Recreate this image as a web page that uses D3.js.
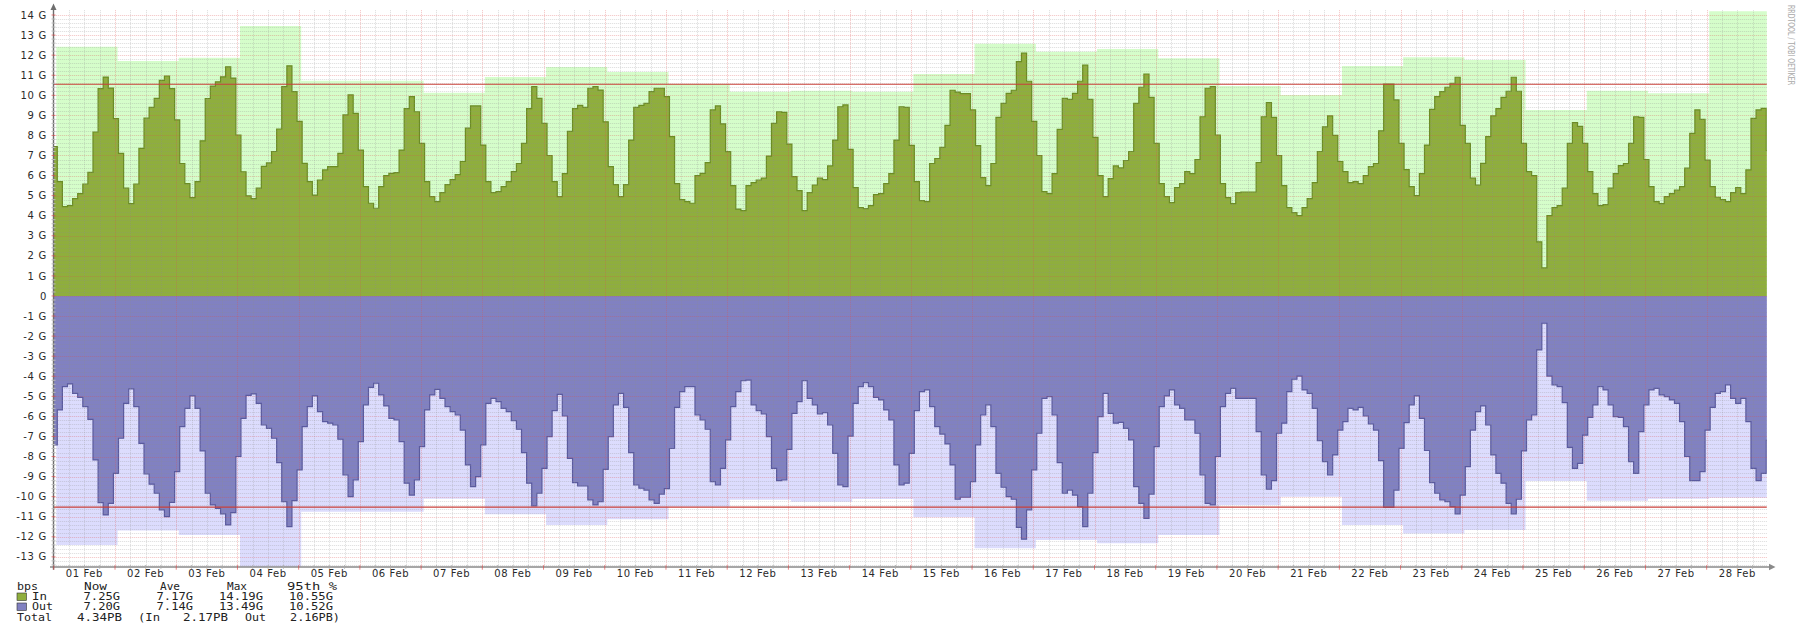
<!DOCTYPE html>
<html><head><meta charset="utf-8">
<script src="https://cdn.jsdelivr.net/npm/d3@7"></script>
<style>html,body{margin:0;padding:0;background:#fff;overflow:hidden}svg{display:block}</style>
</head><body>
<svg id="chart" width="1800" height="628"></svg>
<script>
// ---------------- data (Gbps) ----------------
const dayLabels = ["01 Feb","02 Feb","03 Feb","04 Feb","05 Feb","06 Feb","07 Feb","08 Feb","09 Feb","10 Feb",
  "11 Feb","12 Feb","13 Feb","14 Feb","15 Feb","16 Feb","17 Feb","18 Feb","19 Feb","20 Feb",
  "21 Feb","22 Feb","23 Feb","24 Feb","25 Feb","26 Feb","27 Feb","28 Feb"];
const yTickValues = [-13,-12,-11,-10,-9,-8,-7,-6,-5,-4,-3,-2,-1,0,1,2,3,4,5,6,7,8,9,10,11,12,13,14];

// daily maximum (consolidated) series
const inMax  = [12.42,11.71,11.87,13.45,10.73,10.73,10.13,10.91,11.41,11.16,10.56,10.18,10.23,10.18,
                11.06,12.57,12.17,12.31,11.84,10.46,10.01,11.46,11.89,11.76,9.27,10.23,10.10,14.19];
const outMax = [12.41,11.69,11.91,13.49,10.75,10.75,10.11,10.88,11.41,11.13,10.50,10.16,10.25,10.12,
                11.03,12.57,12.16,12.32,11.91,10.41,10.00,11.41,11.83,11.66,9.22,10.20,10.11,10.05];

// 2-hour averages, inbound
const inTraffic = [
 7.44,5.70,4.45,4.50,4.85,5.10,5.58,6.16,8.17,10.33,10.91,10.36,
 8.84,7.11,5.37,4.60,5.58,7.35,8.86,9.40,9.85,10.74,10.96,10.33,
 8.77,6.60,5.60,4.90,5.70,7.73,9.84,10.46,10.67,10.92,11.42,10.86,
 8.02,6.19,4.99,4.85,5.37,6.46,6.63,7.20,8.32,10.43,11.47,10.18,
 8.70,6.61,5.70,5.03,5.78,6.28,6.45,6.45,7.11,9.02,10.02,9.10,
 7.27,5.45,4.62,4.37,5.45,6.00,6.11,6.15,7.27,9.34,9.93,9.18,
 7.60,5.70,4.95,4.70,5.15,5.55,5.80,6.05,6.70,8.36,9.47,9.47,
 7.52,5.70,5.15,5.20,5.45,5.70,6.20,6.60,7.60,9.34,10.43,9.85,
 8.60,7.00,5.70,4.95,6.10,8.20,9.34,9.50,9.40,10.35,10.43,10.26,
 8.68,6.45,5.55,4.95,5.55,7.77,9.40,9.50,9.60,10.18,10.35,10.35,
 9.93,7.94,5.60,4.80,4.70,4.62,6.00,6.11,6.64,9.27,9.47,8.58,
 7.19,5.50,4.33,4.25,5.50,5.65,5.78,5.87,6.97,8.60,9.18,9.15,
 7.57,5.95,5.25,4.25,5.15,5.53,5.87,5.80,6.48,7.77,9.43,9.52,
 7.30,5.40,4.40,4.35,4.50,5.05,5.10,5.60,6.10,7.77,9.43,9.40,
 7.50,5.70,4.75,4.70,6.60,6.85,7.40,8.50,10.25,10.16,10.08,10.08,
 9.27,7.49,5.90,5.50,6.60,8.90,9.60,10.10,10.25,11.68,12.10,10.70,
 8.70,7.00,5.20,5.10,6.10,8.30,9.85,9.80,10.10,10.70,11.50,9.80,
 7.90,6.00,4.95,5.85,6.48,6.38,6.75,7.20,9.60,10.40,11.06,9.90,
 7.60,5.60,4.95,4.65,5.40,5.60,6.20,6.10,6.80,8.93,10.35,10.43,
 8.02,5.60,4.90,4.60,5.15,5.18,5.18,5.18,6.65,8.93,9.63,8.90,
 7.00,5.50,4.40,4.15,4.00,4.40,4.85,5.65,7.20,8.43,8.97,8.00,
 6.70,6.20,5.65,5.70,5.60,6.00,6.45,6.60,8.23,10.56,10.56,9.77,
 7.60,6.30,5.45,5.00,6.10,7.52,9.30,9.93,10.18,10.40,10.60,10.90,
 8.50,7.60,5.87,5.53,6.61,7.94,8.97,9.34,9.90,10.20,10.90,10.20,
 7.60,6.20,6.00,2.70,1.40,4.00,4.40,4.50,5.37,7.60,8.64,8.45,
 7.60,6.20,5.10,4.50,4.55,5.37,6.10,6.50,6.60,7.60,8.93,8.90,
 6.80,5.45,4.70,4.60,4.95,5.10,5.27,5.45,6.37,8.10,9.27,8.80,
 6.77,5.45,4.92,4.80,4.70,5.15,5.40,5.10,6.28,8.85,9.27,9.35,
 7.25];

// 2-hour averages, outbound (drawn below zero)
const outTraffic = [
 -7.42,-5.68,-4.52,-4.38,-4.85,-5.05,-5.51,-6.15,-8.17,-10.30,-10.91,-10.33,
 -8.84,-7.09,-5.35,-4.63,-5.51,-7.34,-8.87,-9.38,-9.83,-10.66,-10.99,-10.28,
 -8.75,-6.51,-5.60,-4.98,-5.60,-7.72,-9.83,-10.41,-10.58,-10.86,-11.41,-10.80,
 -8.00,-6.10,-4.95,-4.88,-5.35,-6.43,-6.60,-7.09,-8.30,-10.25,-11.49,-10.20,
 -8.67,-6.51,-5.51,-4.98,-5.76,-6.26,-6.34,-6.43,-7.14,-8.92,-10.00,-9.17,
 -7.26,-5.43,-4.55,-4.35,-4.93,-5.48,-6.10,-6.18,-7.26,-9.33,-9.92,-9.17,
 -7.51,-5.68,-4.93,-4.65,-5.10,-5.51,-5.76,-5.93,-6.68,-8.42,-9.50,-9.00,
 -7.42,-5.35,-5.10,-5.26,-5.60,-5.76,-6.21,-6.64,-7.81,-9.33,-10.46,-9.83,
 -8.59,-7.01,-5.71,-4.90,-5.98,-8.09,-9.30,-9.47,-9.47,-10.16,-10.41,-10.25,
 -8.64,-7.01,-5.43,-4.85,-5.55,-7.81,-9.42,-9.58,-9.67,-10.16,-10.33,-9.87,
 -9.60,-7.60,-5.55,-4.77,-4.52,-4.52,-5.93,-6.18,-6.64,-9.25,-9.42,-8.59,
 -7.17,-5.51,-4.77,-4.22,-4.19,-5.43,-5.71,-5.88,-7.01,-8.59,-9.20,-9.17,
 -7.64,-5.85,-5.26,-4.22,-5.10,-5.43,-5.88,-5.81,-6.43,-7.84,-9.42,-9.50,
 -6.98,-5.35,-4.52,-4.32,-4.52,-5.05,-5.18,-5.68,-6.18,-8.42,-9.42,-9.33,
 -7.84,-5.71,-4.77,-4.68,-5.51,-6.51,-6.88,-7.37,-8.42,-10.13,-10.03,-10.03,
 -9.25,-7.42,-5.93,-5.43,-6.51,-8.84,-9.53,-10.00,-10.13,-11.53,-12.12,-10.66,
 -8.67,-6.84,-5.10,-5.02,-5.93,-8.30,-9.83,-9.67,-9.92,-10.50,-11.49,-9.83,
 -7.81,-6.01,-4.85,-5.85,-6.34,-6.30,-6.60,-7.17,-9.50,-10.33,-11.08,-9.87,
 -7.51,-5.51,-4.98,-4.68,-5.43,-5.60,-6.18,-6.18,-6.84,-8.92,-10.33,-10.41,
 -8.00,-5.51,-4.85,-4.60,-5.10,-5.10,-5.10,-5.10,-6.76,-8.92,-9.63,-9.20,
 -6.84,-6.34,-4.77,-4.15,-3.99,-4.68,-4.85,-5.60,-7.21,-8.25,-8.92,-7.92,
 -6.68,-6.26,-5.60,-5.68,-5.55,-5.98,-6.38,-6.68,-8.20,-10.53,-10.53,-9.67,
 -7.59,-6.31,-5.43,-4.98,-6.10,-7.70,-9.30,-9.83,-10.16,-10.25,-10.50,-10.86,
 -9.92,-8.50,-6.68,-5.76,-5.48,-6.43,-7.92,-8.84,-9.33,-10.33,-10.86,-10.13,
 -7.72,-6.18,-5.93,-2.69,-1.36,-3.99,-4.43,-4.52,-5.31,-7.54,-8.59,-8.34,
 -6.93,-6.05,-5.43,-4.52,-4.68,-5.43,-6.01,-6.05,-6.51,-8.25,-8.84,-6.76,
 -5.43,-4.68,-4.60,-4.93,-5.02,-5.18,-5.35,-6.26,-8.00,-9.20,-9.20,-8.75,
 -6.68,-5.55,-4.85,-4.77,-4.43,-5.10,-5.35,-5.10,-6.26,-8.59,-9.20,-8.84,
 -7.20];

const pct95In = 10.55, pct95Out = -10.52;

const legendHeader = ["bps","Now","Ave","Max","95th %"];
const legendIn  = ["In","7.25G","7.17G","14.19G","10.55G"];
const legendOut = ["Out","7.20G","7.14G","13.49G","10.52G"];
const legendTotal = ["Total","4.34PB","(In","2.17PB","Out","2.16PB)"];

// ---------------- drawing ----------------
const svg = d3.select("#chart");
const DAY = 864e5, HOUR = 36e5;
const t0 = Date.UTC(2021, 1, 1);
const plotL = 53.8, plotR = 1766.8, plotRDomain = 1767.9, plotT = 11.2, plotB = 566.7;

const x = d3.scaleUtc().domain([new Date(t0), new Date(t0 + 28 * DAY)]).range([plotL, plotRDomain]);
const y = d3.scaleLinear().domain([-13.49, 14.19]).range([plotB, plotT]);

const colors = {
  inMax: "#d5fdca", inArea: "#8fae3d", inLine: "#6b8c24",
  outMax: "#dcdcfd", outArea: "#8181c1", outLine: "#5a5a9e",
  pct: "#c9403a"
};

svg.append("rect").attr("width", 1800).attr("height", 628).attr("fill", "#fff");

svg.append("defs").append("clipPath").attr("id", "plotClip")
  .append("rect").attr("x", plotL).attr("y", 0).attr("width", plotR - plotL).attr("height", 628);

const g = svg.append("g").attr("clip-path", "url(#plotClip)");

const sampleStart = t0 - 38 * 60e3;
function series(vals) {
  const pts = vals.map((v, k) => ({ t: new Date(sampleStart + k * 2 * HOUR), v }));
  pts.push({ t: new Date(sampleStart + vals.length * 2 * HOUR), v: vals[vals.length - 1] });
  return pts;
}
function maxSeries(vals) {
  const pts = vals.map((v, d) => ({ t: new Date(t0 + d * DAY + HOUR), v }));
  pts.push({ t: new Date(t0 + vals.length * DAY + HOUR), v: vals[vals.length - 1] });
  return pts;
}

const area = d3.area().x(d => x(d.t)).y0(y(0)).y1(d => y(d.v)).curve(d3.curveStepAfter);
const line = d3.line().x(d => x(d.t)).y(d => y(d.v)).curve(d3.curveStepAfter);

g.append("path").datum(maxSeries(inMax)).attr("d", area).attr("fill", colors.inMax);
g.append("path").datum(maxSeries(outMax.map(v => -v))).attr("d", area).attr("fill", colors.outMax);

const inPts = series(inTraffic), outPts = series(outTraffic);
g.append("path").datum(inPts).attr("d", area).attr("fill", colors.inArea);
g.append("path").datum(outPts).attr("d", area).attr("fill", colors.outArea);
g.append("path").datum(inPts).attr("d", line).attr("fill", "none").attr("stroke", colors.inLine).attr("stroke-width", 1.2);
g.append("path").datum(outPts).attr("d", line).attr("fill", "none").attr("stroke", colors.outLine).attr("stroke-width", 1.2);

// grid (drawn over the data like rrdtool)
const grid = svg.append("g");
const minorCol = "rgba(143,143,143,0.32)", majorCol = "rgba(222,79,79,0.36)";
for (let h = 6; h < 28 * 24; h += 6) {
  const xx = Math.round(x(new Date(t0 + h * HOUR))) + 0.5;
  grid.append("line").attr("x1", xx).attr("x2", xx).attr("y1", plotT - 1).attr("y2", plotB)
    .attr("stroke", h % 24 === 0 ? majorCol : minorCol).attr("stroke-dasharray", "1,1");
}
for (let i = Math.ceil(-13.49 * 5); i <= Math.floor(14.19 * 5); i++) {
  const v = i / 5;
  const yy = Math.round(y(v)) + 0.5;
  grid.append("line").attr("x1", plotL).attr("x2", plotR).attr("y1", yy).attr("y2", yy)
    .attr("stroke", i % 5 === 0 ? majorCol : minorCol).attr("stroke-dasharray", "1,1");
}

// 95th percentile lines
[pct95In, pct95Out].forEach(v => {
  svg.append("line").attr("x1", plotL).attr("x2", plotR).attr("y1", y(v)).attr("y2", y(v))
    .attr("stroke", colors.pct).attr("stroke-width", 1.2);
});

// axes
const axisCol = "#8a8a8a";
svg.append("line").attr("x1", 50).attr("x2", 1770).attr("y1", plotB + 0.3).attr("y2", plotB + 0.3)
  .attr("stroke", axisCol).attr("stroke-width", 1.6);
svg.append("line").attr("x1", 53.5).attr("x2", 53.5).attr("y1", plotB + 3).attr("y2", 8)
  .attr("stroke", "#6e6e6e").attr("stroke-width", 1.4);
svg.append("path").attr("d", "M50.5,10 L56.5,10 L53.5,3.5 Z").attr("fill", "#6e6e6e");
svg.append("path").attr("d", `M1769,${plotB - 3} L1769,${plotB + 3.6} L1775.5,${plotB + 0.3} Z`).attr("fill", axisCol);

// ticks on axes
for (let h = 0; h <= 28 * 24; h += 6) {
  const xx = x(new Date(t0 + h * HOUR));
  if (xx > plotR) continue;
  svg.append("line").attr("x1", xx).attr("x2", xx).attr("y1", plotB - 1.5).attr("y2", plotB + (h % 24 === 0 ? 3 : 2))
    .attr("stroke", h % 24 === 0 ? "rgba(222,79,79,0.7)" : "#aaa");
}
for (let i = Math.ceil(-13.49 * 5); i <= Math.floor(14.19 * 5); i++) {
  const yy = y(i / 5);
  svg.append("line").attr("x1", 51.5).attr("x2", 55.5).attr("y1", yy).attr("y2", yy)
    .attr("stroke", i % 5 === 0 ? "rgba(222,79,79,0.7)" : "#bbb");
}

// y labels
svg.append("g").selectAll("text").data(yTickValues).join("text")
  .attr("x", 47).attr("y", d => y(d) + 3.6)
  .attr("text-anchor", "end")
  .attr("font-family", "DejaVu Sans, sans-serif").attr("font-size", 10).attr("letter-spacing", 0.7)
  .attr("fill", "#2a2a2a")
  .text(d => d === 0 ? "0" : `${d} G`);

// x labels
svg.append("g").selectAll("text").data(dayLabels).join("text")
  .attr("x", (d, i) => x(new Date(t0 + i * DAY + 12 * HOUR)))
  .attr("y", 577)
  .attr("text-anchor", "middle")
  .attr("font-family", "DejaVu Sans, sans-serif").attr("font-size", 10).attr("letter-spacing", 0.6)
  .attr("fill", "#2a2a2a")
  .text(d => d);

// watermark
svg.append("text").attr("transform", "translate(1788,5) rotate(90)")
  .attr("font-family", "DejaVu Sans, sans-serif").attr("font-size", 9.5)
  .attr("textLength", 80).attr("lengthAdjust", "spacingAndGlyphs")
  .attr("fill", "#a8a8a8").text("RRDTOOL / TOBI OETIKER");

// legend
const lg = svg.append("g").attr("font-family", "DejaVu Sans Mono, monospace").attr("font-size", 9.6).attr("fill", "#222");
function tok(str, xs, yb, w, anchor) {
  lg.append("text").attr("x", xs).attr("y", yb).attr("text-anchor", anchor || "start")
    .attr("textLength", w).attr("lengthAdjust", "spacingAndGlyphs").text(str);
}
const hx = [[17, 21], [84, 23], [160, 20], [227, 20], [287, 50]];
legendHeader.forEach((s, i) => tok(s, hx[i][0], 590, hx[i][1]));
const numEnds = [120, 193, 263, 333];
function row(vals, yb, col, nameW) {
  lg.append("rect").attr("x", 17).attr("y", yb - 7).attr("width", 9.5).attr("height", 7.5)
    .attr("fill", col).attr("stroke", "#333").attr("stroke-width", 0.6);
  tok(vals[0], 32, yb, nameW);
  vals.slice(1).forEach((s, i) => tok(s, numEnds[i], yb, s.length * 7.6 - 1.6, "end"));
}
row(legendIn, 600, colors.inArea, 15);
row(legendOut, 610, colors.outArea, 21);
const tx = [[17, 35], [77, 45], [138, 22], [183, 45], [245, 21], [290, 50]];
legendTotal.forEach((s, i) => tok(s, tx[i][0], 620.5, tx[i][1]));
</script>
</body></html>
